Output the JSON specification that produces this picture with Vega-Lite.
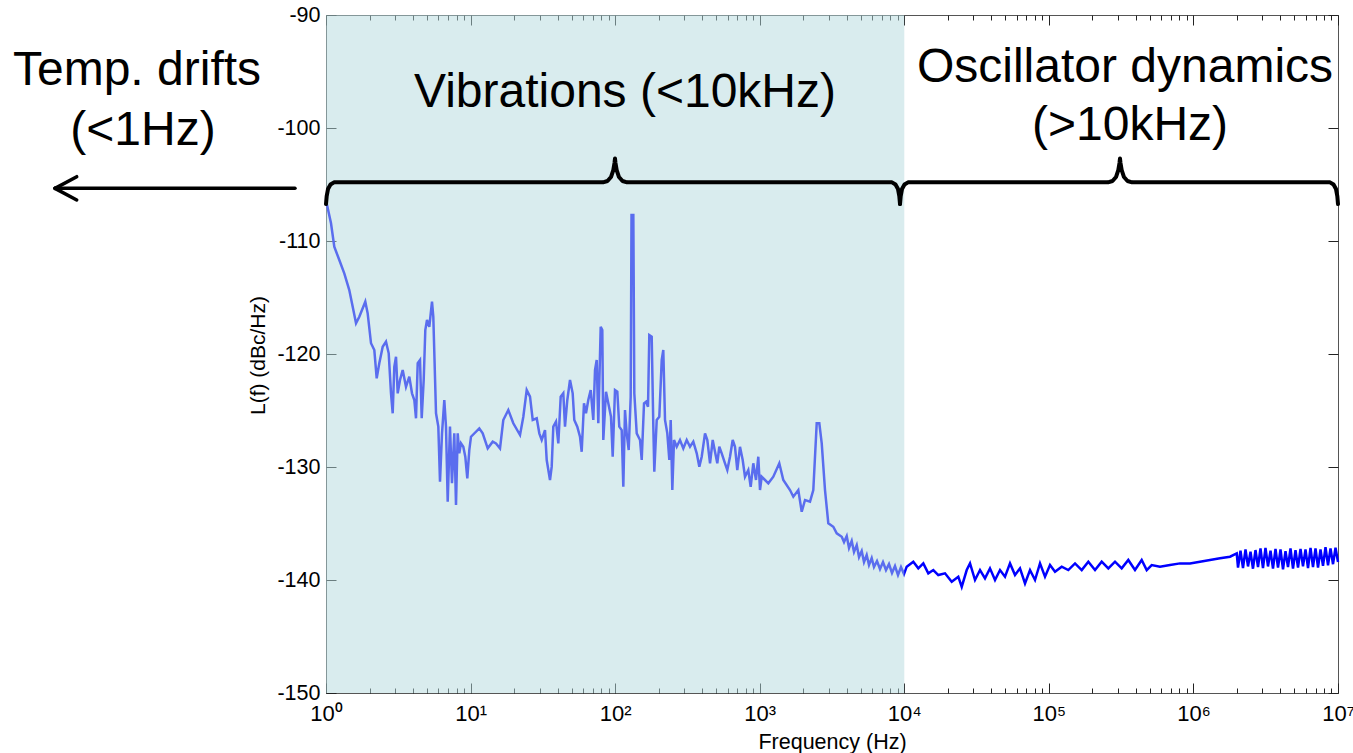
{
"$schema": "https://vega.github.io/schema/vega-lite/v6.json",
"width": 1012, "height": 678,
"autosize": {"type": "none"},
"padding": {"left": 326, "top": 15, "right": 15, "bottom": 60},
"background": "white",
"config": {"view": {"stroke": "#555555", "strokeWidth": 1}, "axis": {"zindex": 1}},
"datasets": {
"spectrum": [
{"f":1.0,"dB":-106.4},{"f":1.083,"dB":-108.43},{"f":1.141,"dB":-110.51},{"f":1.236,"dB":-111.68},{"f":1.338,"dB":-112.86},{"f":1.449,"dB":-114.34},{"f":1.53,"dB":-115.82},{"f":1.613,"dB":-117.28},{"f":1.7,"dB":-116.7},{"f":1.87,"dB":-115.37},{"f":1.942,"dB":-116.4},{"f":2.048,"dB":-119.05},{"f":2.159,"dB":-119.65},{"f":2.242,"dB":-122.15},{"f":2.337,"dB":-120.82},{"f":2.467,"dB":-119.36},{"f":2.6,"dB":-118.91},{"f":2.715,"dB":-119.94},{"f":2.816,"dB":-123.48},{"f":2.893,"dB":-125.25},{"f":2.968,"dB":-121.13},{"f":3.05,"dB":-120.24},{"f":3.133,"dB":-123.48},{"f":3.25,"dB":-122.3},{"f":3.392,"dB":-121.42},{"f":3.576,"dB":-122.9},{"f":3.769,"dB":-122.01},{"f":3.935,"dB":-123.48},{"f":4.082,"dB":-124.07},{"f":4.193,"dB":-125.69},{"f":4.309,"dB":-120.82},{"f":4.469,"dB":-120.53},{"f":4.592,"dB":-125.69},{"f":4.74,"dB":-122.3},{"f":4.863,"dB":-117.88},{"f":4.996,"dB":-116.99},{"f":5.183,"dB":-117.59},{"f":5.41,"dB":-115.37},{"f":5.524,"dB":-116.7},{"f":5.767,"dB":-125.25},{"f":5.983,"dB":-126.43},{"f":6.145,"dB":-131.3},{"f":6.345,"dB":-127.02},{"f":6.581,"dB":-124.07},{"f":6.761,"dB":-126.43},{"f":6.948,"dB":-133.07},{"f":7.204,"dB":-126.43},{"f":7.438,"dB":-131.44},{"f":7.716,"dB":-127.02},{"f":7.929,"dB":-133.37},{"f":8.147,"dB":-127.02},{"f":8.356,"dB":-128.79},{"f":8.585,"dB":-127.91},{"f":8.907,"dB":-128.21},{"f":9.194,"dB":-129.09},{"f":9.493,"dB":-131.0},{"f":9.8,"dB":-128.5},{"f":10.07,"dB":-127.32},{"f":11.49,"dB":-126.58},{"f":12.13,"dB":-127.02},{"f":13.14,"dB":-128.35},{"f":14.23,"dB":-127.76},{"f":14.99,"dB":-127.91},{"f":15.98,"dB":-128.35},{"f":16.84,"dB":-125.84},{"f":18.24,"dB":-124.96},{"f":19.75,"dB":-126.13},{"f":21.98,"dB":-127.17},{"f":23.17,"dB":-125.55},{"f":24.45,"dB":-123.19},{"f":25.77,"dB":-123.78},{"f":26.91,"dB":-125.84},{"f":28.68,"dB":-125.69},{"f":29.89,"dB":-127.02},{"f":31.05,"dB":-127.61},{"f":32.72,"dB":-126.73},{"f":33.62,"dB":-129.38},{"f":35.43,"dB":-131.15},{"f":36.41,"dB":-129.97},{"f":37.35,"dB":-126.43},{"f":38.99,"dB":-125.99},{"f":40.45,"dB":-127.91},{"f":42.02,"dB":-123.78},{"f":43.79,"dB":-123.48},{"f":45.0,"dB":-126.43},{"f":46.68,"dB":-124.07},{"f":48.73,"dB":-122.3},{"f":50.85,"dB":-123.48},{"f":52.17,"dB":-125.84},{"f":54.72,"dB":-126.43},{"f":57.13,"dB":-127.32},{"f":58.7,"dB":-128.65},{"f":60.89,"dB":-124.36},{"f":62.86,"dB":-125.25},{"f":65.21,"dB":-124.07},{"f":67.75,"dB":-123.19},{"f":70.62,"dB":-125.84},{"f":72.57,"dB":-121.42},{"f":74.55,"dB":-120.53},{"f":76.48,"dB":-126.13},{"f":79.45,"dB":-117.59},{"f":81.5,"dB":-117.88},{"f":82.81,"dB":-127.61},{"f":86.45,"dB":-123.34},{"f":89.68,"dB":-124.36},{"f":93.61,"dB":-125.55},{"f":96.18,"dB":-129.09},{"f":99.77,"dB":-123.19},{"f":103.5,"dB":-123.34},{"f":106.8,"dB":-126.43},{"f":111.0,"dB":-126.73},{"f":113.9,"dB":-131.75},{"f":117.0,"dB":-124.96},{"f":120.2,"dB":-127.02},{"f":124.1,"dB":-128.5},{"f":128.1,"dB":-123.78},{"f":129.8,"dB":-107.7},{"f":133.6,"dB":-107.7},{"f":135.7,"dB":-123.48},{"f":141.0,"dB":-127.02},{"f":148.6,"dB":-127.61},{"f":152.7,"dB":-129.38},{"f":158.4,"dB":-124.36},{"f":163.5,"dB":-124.22},{"f":168.8,"dB":-124.66},{"f":172.3,"dB":-118.32},{"f":179.0,"dB":-118.47},{"f":183.7,"dB":-126.43},{"f":186.6,"dB":-130.42},{"f":193.9,"dB":-125.84},{"f":202.1,"dB":-125.55},{"f":210.0,"dB":-120.53},{"f":215.3,"dB":-119.65},{"f":221.3,"dB":-125.84},{"f":229.5,"dB":-127.02},{"f":237.0,"dB":-129.38},{"f":242.3,"dB":-125.84},{"f":248.6,"dB":-132.04},{"f":255.4,"dB":-127.61},{"f":266.6,"dB":-128.21},{"f":280.9,"dB":-127.61},{"f":296.1,"dB":-128.35},{"f":312.6,"dB":-127.61},{"f":329.5,"dB":-128.21},{"f":347.3,"dB":-127.76},{"f":366.7,"dB":-128.79},{"f":382.2,"dB":-129.97},{"f":397.0,"dB":-129.09},{"f":418.5,"dB":-127.02},{"f":434.1,"dB":-127.61},{"f":453.2,"dB":-129.67},{"f":473.0,"dB":-127.61},{"f":490.6,"dB":-128.65},{"f":508.9,"dB":-129.67},{"f":525.4,"dB":-128.21},{"f":545.9,"dB":-128.79},{"f":575.4,"dB":-129.67},{"f":596.8,"dB":-130.27},{"f":623.0,"dB":-129.09},{"f":650.3,"dB":-127.61},{"f":674.5,"dB":-128.21},{"f":699.7,"dB":-130.27},{"f":730.4,"dB":-128.21},{"f":762.5,"dB":-129.38},{"f":791.0,"dB":-130.86},{"f":833.7,"dB":-130.27},{"f":866.2,"dB":-131.75},{"f":902.8,"dB":-129.67},{"f":942.5,"dB":-131.15},{"f":977.7,"dB":-129.09},{"f":1004.6,"dB":-132.04},{"f":1032,"dB":-130.86},{"f":1088,"dB":-131.15},{"f":1147,"dB":-131.44},{"f":1242,"dB":-130.86},{"f":1366,"dB":-129.67},{"f":1456,"dB":-131.15},{"f":1620,"dB":-132.04},{"f":1708,"dB":-132.63},{"f":1849,"dB":-132.04},{"f":1952,"dB":-133.96},{"f":2058,"dB":-132.92},{"f":2228,"dB":-133.07},{"f":2348,"dB":-132.04},{"f":2479,"dB":-126.13},{"f":2584,"dB":-126.13},{"f":2685,"dB":-127.91},{"f":2829,"dB":-132.04},{"f":2982,"dB":-134.98},{"f":3229,"dB":-135.29},{"f":3409,"dB":-135.87},{"f":3693,"dB":-136.17},{"f":3830,"dB":-136.64},{"f":3998,"dB":-136.11},{"f":4147,"dB":-137.17},{"f":4329,"dB":-136.55},{"f":4490,"dB":-137.52},{"f":4689,"dB":-136.91},{"f":4864,"dB":-137.97},{"f":5076,"dB":-137.44},{"f":5265,"dB":-138.41},{"f":5495,"dB":-137.79},{"f":5700,"dB":-138.68},{"f":5951,"dB":-138.06},{"f":6172,"dB":-138.85},{"f":6475,"dB":-138.32},{"f":6792,"dB":-139.03},{"f":7124,"dB":-138.41},{"f":7472,"dB":-139.12},{"f":7838,"dB":-138.59},{"f":8222,"dB":-139.38},{"f":8625,"dB":-138.76},{"f":9047,"dB":-139.56},{"f":9489,"dB":-138.85},{"f":9954,"dB":-139.47},{"f":10392,"dB":-138.82},{"f":11544,"dB":-138.38},{"f":12503,"dB":-138.97},{"f":13539,"dB":-138.53},{"f":14660,"dB":-139.41},{"f":15875,"dB":-139.12},{"f":17190,"dB":-139.56},{"f":19130,"dB":-139.41},{"f":21280,"dB":-140.15},{"f":23640,"dB":-139.71},{"f":24960,"dB":-140.6},{"f":27030,"dB":-139.12},{"f":28490,"dB":-138.53},{"f":30850,"dB":-140.0},{"f":33410,"dB":-139.12},{"f":36160,"dB":-139.85},{"f":39160,"dB":-138.97},{"f":42420,"dB":-140.0},{"f":45930,"dB":-139.12},{"f":49740,"dB":-139.71},{"f":53860,"dB":-138.53},{"f":58330,"dB":-139.56},{"f":63160,"dB":-138.97},{"f":68400,"dB":-140.3},{"f":74070,"dB":-139.12},{"f":80210,"dB":-140.0},{"f":86850,"dB":-138.53},{"f":94060,"dB":-139.71},{"f":101860,"dB":-138.68},{"f":110300,"dB":-139.27},{"f":122700,"dB":-138.82},{"f":136300,"dB":-139.12},{"f":151700,"dB":-138.53},{"f":168800,"dB":-139.12},{"f":187500,"dB":-138.38},{"f":208600,"dB":-139.12},{"f":232000,"dB":-138.38},{"f":257800,"dB":-138.97},{"f":286800,"dB":-138.38},{"f":319000,"dB":-138.97},{"f":354400,"dB":-138.23},{"f":394300,"dB":-139.12},{"f":438700,"dB":-138.23},{"f":475200,"dB":-139.12},{"f":514500,"dB":-138.68},{"f":587100,"dB":-138.82},{"f":688500,"dB":-138.68},{"f":807400,"dB":-138.53},{"f":946900,"dB":-138.53},{"f":1110000,"dB":-138.38},{"f":1302000,"dB":-138.23},{"f":1527000,"dB":-138.08},{"f":1791000,"dB":-137.94},{"f":1993000,"dB":-137.64},
{"f":2034000,"dB":-138.9},{"f":2116000,"dB":-137.4},{"f":2202000,"dB":-138.95},{"f":2292000,"dB":-137.3},{"f":2385000,"dB":-138.8},{"f":2482000,"dB":-137.5},{"f":2582000,"dB":-139.0},{"f":2687000,"dB":-137.35},{"f":2797000,"dB":-138.85},{"f":2910000,"dB":-137.2},{"f":3028000,"dB":-138.95},{"f":3151000,"dB":-137.15},{"f":3279000,"dB":-138.8},{"f":3413000,"dB":-137.4},{"f":3551000,"dB":-139.0},{"f":3696000,"dB":-137.25},{"f":3846000,"dB":-138.9},{"f":4002000,"dB":-137.3},{"f":4165000,"dB":-139.05},{"f":4334000,"dB":-137.45},{"f":4510000,"dB":-138.85},{"f":4693000,"dB":-137.2},{"f":4884000,"dB":-139.0},{"f":5082000,"dB":-137.35},{"f":5289000,"dB":-138.9},{"f":5504000,"dB":-137.25},{"f":5727000,"dB":-138.8},{"f":5960000,"dB":-137.3},{"f":6202000,"dB":-138.95},{"f":6454000,"dB":-137.15},{"f":6716000,"dB":-138.85},{"f":6989000,"dB":-137.2},{"f":7273000,"dB":-138.9},{"f":7569000,"dB":-137.3},{"f":7876000,"dB":-138.75},{"f":8196000,"dB":-137.1},{"f":8529000,"dB":-138.7},{"f":8876000,"dB":-137.2},{"f":9237000,"dB":-138.6},{"f":9612000,"dB":-137.15},{"f":10000000,"dB":-138.4}
],
"region": [{"f0": 1, "f1": 10000, "y0": -150, "y1": -90}],
"braces": [
{"brace":"vib","f":1.0,"dB":-106.73},{"brace":"vib","f":1.0112,"dB":-106.02},{"brace":"vib","f":1.0324,"dB":-105.4},{"brace":"vib","f":1.0743,"dB":-105.0},{"brace":"vib","f":1.1358,"dB":-104.81},{"brace":"vib","f":82.41,"dB":-104.81},{"brace":"vib","f":88.53,"dB":-104.69},{"brace":"vib","f":93.61,"dB":-104.34},{"brace":"vib","f":97.1,"dB":-103.72},{"brace":"vib","f":98.97,"dB":-103.1},{"brace":"vib","f":99.77,"dB":-102.7},{"brace":"vib","f":100.56,"dB":-103.1},{"brace":"vib","f":102.49,"dB":-103.72},{"brace":"vib","f":106.33,"dB":-104.34},{"brace":"vib","f":112.4,"dB":-104.69},{"brace":"vib","f":120.8,"dB":-104.81},{"brace":"vib","f":8222,"dB":-104.81},{"brace":"vib","f":8694,"dB":-105.0},{"brace":"vib","f":9047,"dB":-105.4},{"brace":"vib","f":9237,"dB":-106.02},{"brace":"vib","f":9341,"dB":-106.73},
{"brace":"osc","f":9341,"dB":-106.73},{"brace":"osc","f":9446,"dB":-106.02},{"brace":"osc","f":9643,"dB":-105.4},{"brace":"osc","f":10035,"dB":-105.0},{"brace":"osc","f":10610,"dB":-104.81},{"brace":"osc","f":256600,"dB":-104.81},{"brace":"osc","f":275600,"dB":-104.69},{"brace":"osc","f":291400,"dB":-104.34},{"brace":"osc","f":302200,"dB":-103.72},{"brace":"osc","f":308000,"dB":-103.1},{"brace":"osc","f":310500,"dB":-102.7},{"brace":"osc","f":313000,"dB":-103.1},{"brace":"osc","f":319000,"dB":-103.72},{"brace":"osc","f":330900,"dB":-104.34},{"brace":"osc","f":349900,"dB":-104.69},{"brace":"osc","f":375900,"dB":-104.81},{"brace":"osc","f":8806000,"dB":-104.81},{"brace":"osc","f":9310000,"dB":-105.0},{"brace":"osc","f":9687000,"dB":-105.4},{"brace":"osc","f":9890000,"dB":-106.02},{"brace":"osc","f":10000000,"dB":-106.73}
],
"arrow": [
{"f":0.6103,"f2":0.01335,"dB":-105.34,"dB2":-105.34},
{"f":0.01335,"f2":0.01887,"dB":-105.34,"dB2":-104.31},
{"f":0.01335,"f2":0.01887,"dB":-105.34,"dB2":-106.37}
],
"labels": [
{"f":0.0493,"dB":-96.2,"label":"Temp. drifts"},
{"f":0.0542,"dB":-101.5,"label":"(<1Hz)"},
{"f":117,"dB":-98.15,"label":"Vibrations (<10kHz)"},
{"f":336300,"dB":-95.9,"label":"Oscillator dynamics"},
{"f":364200,"dB":-101.1,"label":"(>10kHz)"}
]
},
"layer": [
{
"data": {"name": "spectrum"},
"mark": {"type": "line", "color": "#0000ff", "strokeWidth": 2.5, "strokeJoin": "miter"},
"encoding": {
"x": {"field": "f", "type": "quantitative", "scale": {"type": "log", "domain": [1, 10000000], "nice": false},
 "axis": {"orient": "bottom", "values": [1,2,3,4,5,6,7,8,9,10,20,30,40,50,60,70,80,90,100,200,300,400,500,600,700,800,900,1000,2000,3000,4000,5000,6000,7000,8000,9000,10000,20000,30000,40000,50000,60000,70000,80000,90000,100000,200000,300000,400000,500000,600000,700000,800000,900000,1000000,2000000,3000000,4000000,5000000,6000000,7000000,8000000,9000000,10000000],
 "tickSize": -10, "tickColor": "#222222", "tickWidth": 1,
 "tickDash": {"condition": {"test": "indexof([1,10,100,1000,10000,100000,1000000,10000000], datum.value) < 0", "value": [5, 30]}, "value": []},
 "labelExpr": "indexof([1,10,100,1000,10000,100000,1000000,10000000], datum.value) >= 0 ? '10' + ['⁰','¹','²','³','⁴','⁵','⁶','⁷'][indexof([1,10,100,1000,10000,100000,1000000,10000000], datum.value)] : ''",
 "labelFont": "Liberation Sans", "labelFontSize": 22, "labelColor": "black", "labelPadding": 20, "labelFlush": false, "labelOverlap": false, "labelBound": false,
 "domain": false, "grid": false,
 "title": "Frequency (Hz)", "titleFont": "Liberation Sans", "titleFontSize": 21.5, "titleFontWeight": "normal", "titleColor": "black", "titleY": 55, "titleBaseline": "alphabetic"}},
"y": {"field": "dB", "type": "quantitative", "scale": {"domain": [-150, -90], "nice": false, "zero": false},
 "axis": {"orient": "left", "values": [-150,-140,-130,-120,-110,-100,-90], "tickSize": -10, "tickColor": "#222222",
 "labelExpr": "'' + datum.value", "labelFont": "Liberation Sans", "labelFontSize": 21.5, "labelColor": "black", "labelPadding": 16,
 "domain": false, "grid": false,
 "title": "L(f) (dBc/Hz)", "titleFont": "Liberation Sans", "titleFontSize": 21, "titleFontWeight": "normal", "titleColor": "black",
 "titleX": -68, "titleY": 340, "titleAngle": 270, "titleAlign": "center", "titleBaseline": "middle"}}
}
},
{
"data": {"name": "region"},
"mark": {"type": "rect", "color": "#b3d9dd", "opacity": 0.5},
"encoding": {
"x": {"field": "f0", "type": "quantitative", "scale": {"type": "log", "domain": [1, 10000000], "nice": false},
 "axis": {"orient": "top", "values": [1,2,3,4,5,6,7,8,9,10,20,30,40,50,60,70,80,90,100,200,300,400,500,600,700,800,900,1000,2000,3000,4000,5000,6000,7000,8000,9000,10000,20000,30000,40000,50000,60000,70000,80000,90000,100000,200000,300000,400000,500000,600000,700000,800000,900000,1000000,2000000,3000000,4000000,5000000,6000000,7000000,8000000,9000000,10000000],
 "tickSize": -10, "tickColor": "#222222", "tickWidth": 1,
 "tickDash": {"condition": {"test": "indexof([1,10,100,1000,10000,100000,1000000,10000000], datum.value) < 0", "value": [5, 30]}, "value": []},
 "labels": false, "domain": false, "grid": false, "title": null}},
"x2": {"field": "f1"},
"y": {"field": "y0", "type": "quantitative", "scale": {"domain": [-150, -90], "nice": false, "zero": false},
 "axis": {"orient": "right", "values": [-150,-140,-130,-120,-110,-100,-90], "tickSize": -10, "tickColor": "#222222", "labels": false, "domain": false, "grid": false, "title": null}},
"y2": {"field": "y1"}
}
},
{
"data": {"name": "braces"},
"mark": {"type": "line", "color": "black", "strokeWidth": 4, "strokeCap": "round", "strokeJoin": "round"},
"encoding": {
"x": {"field": "f", "type": "quantitative", "scale": {"type": "log", "domain": [1, 10000000], "nice": false}, "axis": null},
"y": {"field": "dB", "type": "quantitative", "scale": {"domain": [-150, -90], "nice": false, "zero": false}, "axis": null},
"detail": {"field": "brace"}
}
},
{
"data": {"name": "arrow"},
"mark": {"type": "rule", "color": "black", "strokeWidth": 3.5, "strokeCap": "round"},
"encoding": {
"x": {"field": "f", "type": "quantitative", "scale": {"type": "log", "domain": [1, 10000000], "nice": false}, "axis": null},
"x2": {"field": "f2"},
"y": {"field": "dB", "type": "quantitative", "scale": {"domain": [-150, -90], "nice": false, "zero": false}, "axis": null},
"y2": {"field": "dB2"}
}
},
{
"data": {"name": "labels"},
"mark": {"type": "text", "font": "Liberation Sans", "fontSize": 48, "align": "center", "baseline": "alphabetic", "color": "black"},
"encoding": {
"x": {"field": "f", "type": "quantitative", "scale": {"type": "log", "domain": [1, 10000000], "nice": false}, "axis": null},
"y": {"field": "dB", "type": "quantitative", "scale": {"domain": [-150, -90], "nice": false, "zero": false}, "axis": null},
"text": {"field": "label"}
}
}
],
"resolve": {"axis": {"x": "independent", "y": "independent"}}
}
